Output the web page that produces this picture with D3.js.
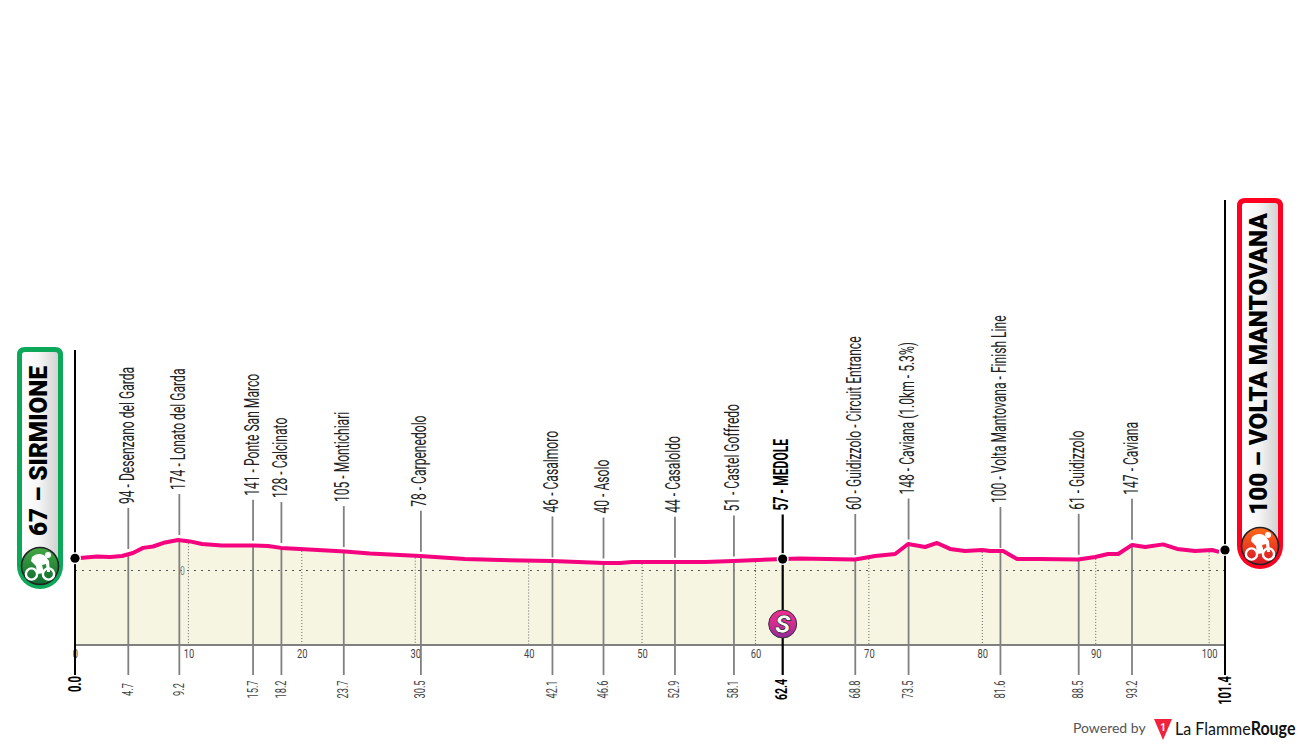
<!DOCTYPE html>
<html><head><meta charset="utf-8">
<script src="https://cdnjs.cloudflare.com/ajax/libs/d3/7.8.5/d3.min.js"></script>
<style>html,body{margin:0;padding:0;background:#fff}svg{display:block}text{font-family:Roboto,sans-serif}</style>
</head><body><svg id="c" width="1300" height="745"></svg>
<script>
const profileKm=[0.44,1.94,3.09,4.14,5.11,6.0,6.88,7.94,9.08,10.14,11.2,12.96,15.43,17.02,18.17,19.84,23.8,26.01,30.42,34.39,37.48,42.06,46.65,48.06,49.12,52.91,55.56,58.02,62.43,63.93,68.78,70.55,72.31,73.46,74.96,76.01,77.16,78.48,79.98,80.69,81.83,83.07,85.1,88.45,89.95,91.09,91.98,93.21,94.36,95.94,97.18,98.77,100.26,100.88];
const profileElev=[71,80,77,83,100,129,137,160,174,166,151,143,143,140,129,123,109,97,83,66,60,54,43,43,49,49,49,54,66,69,63,83,94,151,134,157,123,111,117,111,111,66,66,63,77,94,94,146,134,149,123,111,117,106];
const wpKm=[4.7,9.2,15.7,18.2,23.7,30.5,42.1,46.6,52.9,58.1,62.4,68.8,73.5,81.6,88.5,93.2];
const wpKmLabel=["4.7","9.2","15.7","18.2","23.7","30.5","42.1","46.6","52.9","58.1","62.4","68.8","73.5","81.6","88.5","93.2"];
const wpElev=[94,174,141,128,105,78,46,40,44,51,57,60,148,100,61,147];
const wpName=["Desenzano del Garda","Lonato del Garda","Ponte San Marco","Calcinato","Montichiari","Carpenedolo","Casalmoro","Asolo","Casaloldo","Castel Goffredo","MEDOLE","Guidizzolo - Circuit Entrance","Caviana (1.0km - 5.3%)","Volta Mantovana - Finish Line","Guidizzolo","Caviana"];
const kmTicks=[0,10,20,30,40,50,60,70,80,90,100];
const startLabel="67 – SIRMIONE", finishLabel="100 – VOLTA MANTOVANA";
const totalKm=101.4, sprintIndex=10;

const svg=d3.select("#c");
const x=d3.scaleLinear().domain([0,totalKm]).range([75,1225]);
const y=d3.scaleLinear().domain([0,174]).range([570.5,540]);
const base=645;
const defs=svg.append("defs");
function grad(id,stops,vert){const g=defs.append("linearGradient").attr("id",id).attr("x1",0).attr("x2",vert?0:1).attr("y1",0).attr("y2",vert?1:0);
 stops.forEach(s=>g.append("stop").attr("offset",s[0]).attr("stop-color",s[1]));}
grad("pill",[[0,"#ffffff"],[0.45,"#f6f6f6"],[1,"#d2d2d2"]],false);
grad("gi",[[0,"#45a844"],[1,"#0c6b30"]],true);
grad("ri",[[0,"#ff6a1a"],[1,"#d81425"]],true);
grad("si",[[0,"#ee2f92"],[0.55,"#cc2b94"],[1,"#8f2a9c"]],true);

// area
const areaPts=[[0,profileElev[0]]].concat(profileKm.map((k,i)=>[k,profileElev[i]]),[[totalKm,profileElev[profileElev.length-1]]]);
svg.append("path").attr("d",d3.area().x(d=>x(d[0])).y0(base).y1(d=>y(d[1]))(areaPts)).attr("fill","#f5f5e2");
// zero line
svg.append("line").attr("x1",x(0)).attr("x2",x(totalKm)).attr("y1",y(0)).attr("y2",y(0)).attr("stroke","#555").attr("stroke-width",1).attr("stroke-dasharray","2 5");
svg.append("text").attr("transform",`translate(${x(9.2)+3},${y(0)+4}) scale(.72,1)`).attr("text-anchor","middle").attr("font-size",12).attr("fill","#888").text("0");
// km grid
const interp=d3.scaleLinear().domain(profileKm).range(profileElev);
kmTicks.slice(1).forEach(k=>{
 svg.append("line").attr("x1",x(k)).attr("x2",x(k)).attr("y1",y(interp(k))+2).attr("y2",base).attr("stroke","#666").attr("stroke-width",1).attr("stroke-dasharray","1 2");
});
const axisG=svg.append("g").attr("transform",`translate(0,${base})`).call(d3.axisBottom(x).tickValues(kmTicks).tickSize(0).tickPadding(3).tickFormat(d=>d));
axisG.select(".domain").remove();
axisG.selectAll("text").attr("fill","#444").attr("font-size",12.5)
 .each(function(){const t=d3.select(this);const p=+this.parentNode.getAttribute("transform").match(/\(([\d.]+)/)[1];
   d3.select(this.parentNode).attr("transform",`translate(${p},0) scale(.75,1)`);t.attr("y",4);});
svg.append("line").attr("x1",x(0)).attr("x2",x(totalKm)).attr("y1",base).attr("y2",base).attr("stroke","#808080").attr("stroke-width",2);

// waypoints
wpKm.forEach((k,i)=>{
 const cx=x(k),ly=y(wpElev[i]),bold=i===sprintIndex,col=bold?"#000":"#808080",w=bold?2.2:1.8;
 const top=ly-46;
 svg.append("line").attr("x1",cx).attr("x2",cx).attr("y1",top).attr("y2",ly-5).attr("stroke",col).attr("stroke-width",w);
 svg.append("line").attr("x1",cx).attr("x2",cx).attr("y1",ly).attr("y2",675).attr("stroke",col).attr("stroke-width",w);
 svg.append("text").attr("transform",`translate(${cx+5.5},${top-4}) rotate(-90) scale(.605,1)`)
  .attr("font-size",20).attr("font-weight",bold?700:400).attr("fill",bold?"#000":"#222")
  .text(`${wpElev[i]} - ${wpName[i]}`);
 svg.append("text").attr("transform",`translate(${cx+4.5},689.5) rotate(-90) scale(.62,1)`).attr("text-anchor","middle")
  .attr("font-size",bold?17:15).attr("font-weight",bold?700:400).attr("fill",bold?"#000":"#444").text(wpKmLabel[i]);
});
// end verticals
[[0,350],[totalKm,200]].forEach(d=>{
 svg.append("line").attr("x1",x(d[0])).attr("x2",x(d[0])).attr("y1",d[1]).attr("y2",675).attr("stroke","#000").attr("stroke-width",2);
 svg.append("text").attr("transform",`translate(${x(d[0])+5.5},676) rotate(-90) scale(.62,1)`).attr("text-anchor","end")
  .attr("font-size",18).attr("font-weight",700).attr("fill","#000").text(d[0].toFixed(1));
});
// profile line
svg.append("path").attr("d",d3.line().x((d,i)=>x(profileKm[i])).y(d=>y(d)).curve(d3.curveLinear)(profileElev))
 .attr("fill","none").attr("stroke","#f5027f").attr("stroke-width",4).attr("stroke-linejoin","round");
// dots
[[0,profileElev[0]-1],[wpKm[sprintIndex],wpElev[sprintIndex]+8],[totalKm,profileElev[profileElev.length-1]+11]].forEach(d=>{
 svg.append("circle").attr("cx",x(d[0])).attr("cy",y(d[1])).attr("r",6).attr("fill","#fff");
 svg.append("circle").attr("cx",x(d[0])).attr("cy",y(d[1])).attr("r",4.6).attr("fill","#000");
});
// sprint badge
const sb=svg.append("g").attr("transform",`translate(${x(wpKm[sprintIndex])},624)`);
sb.append("circle").attr("r",14).attr("fill","url(#si)").attr("stroke","#333").attr("stroke-width",1);
sb.append("text").attr("text-anchor","middle").attr("y",8.5).attr("font-size",26).attr("font-weight",900).attr("font-style","italic").attr("fill","#fff").attr("stroke","#222").attr("stroke-width",.7).text("S");

function bike(g,fill){
 g.append("circle").attr("r",18.5).attr("fill",fill).attr("stroke","#222").attr("stroke-width",1.6);
 [[-8.5,8],[8.5,8]].forEach(c=>g.append("circle").attr("cx",c[0]).attr("cy",c[1]).attr("r",5.6).attr("fill","none").attr("stroke","#fff").attr("stroke-width",2.4));
 g.append("path").attr("d","M-8,-9 C-4,-13 3,-13 6,-9 L9,-5 L10,6 L7,6 L6,-2 L2,-1 L4,7 L-3,8 L-4,0 L-9,-5 Z").attr("fill","#fff");
 g.append("circle").attr("cx",8).attr("cy",-11).attr("r",3).attr("fill","#fff");
}
function pill(bx,by,w,h,col,label,iconFill,textCy,fs){
 const rt=8,rb=w/2;
 const p=(x0,y0,ww,hh,r1,r2)=>`M${x0+r1},${y0} H${x0+ww-r1} Q${x0+ww},${y0} ${x0+ww},${y0+r1} V${y0+hh-r2} A${r2},${r2} 0 0 1 ${x0},${y0+hh-r2} V${y0+r1} Q${x0},${y0} ${x0+r1},${y0} Z`;
 svg.append("path").attr("d",p(bx,by,w,h,rt,rb)).attr("fill",col);
 svg.append("path").attr("d",p(bx+5,by+5,w-10,h-10,3,rb-5)).attr("fill","url(#pill)");
 const g=svg.append("g").attr("transform",`translate(${bx+w/2},${by+h-rb})`);
 bike(g,iconFill);
 svg.append("text").attr("transform",`translate(${bx+w/2+7.3},${textCy}) rotate(-90) scale(.955,1)`).attr("text-anchor","middle").attr("font-size",fs).attr("font-weight",900).attr("fill","#000").text(label);
}
pill(17,347,46,242,"#0aa858",startLabel,"url(#gi)",451,25.5);
pill(1237,198,46,371,"#ff0022",finishLabel,"url(#ri)",364,25.5);

// footer
svg.append("text").attr("x",1073).attr("y",733).style("font-family","Lato").attr("font-size",14).attr("fill","#555").text("Powered by");
svg.append("path").attr("d",d3.line()([[1154,719],[1172,719],[1163,740]])+"Z").attr("fill","#f0223c");
svg.append("text").attr("x",1163).attr("y",731).attr("text-anchor","middle").attr("font-size",10).attr("font-weight",700).attr("fill","#fff").text("1");
const lf=svg.append("text").attr("transform","translate(1175,734.5) scale(.89,1)").style("font-family","Lato").attr("font-size",18).attr("fill","#111");
lf.append("tspan").text("La Flamme");
lf.append("tspan").attr("font-weight",700).text("Rouge");
</script></body></html>
